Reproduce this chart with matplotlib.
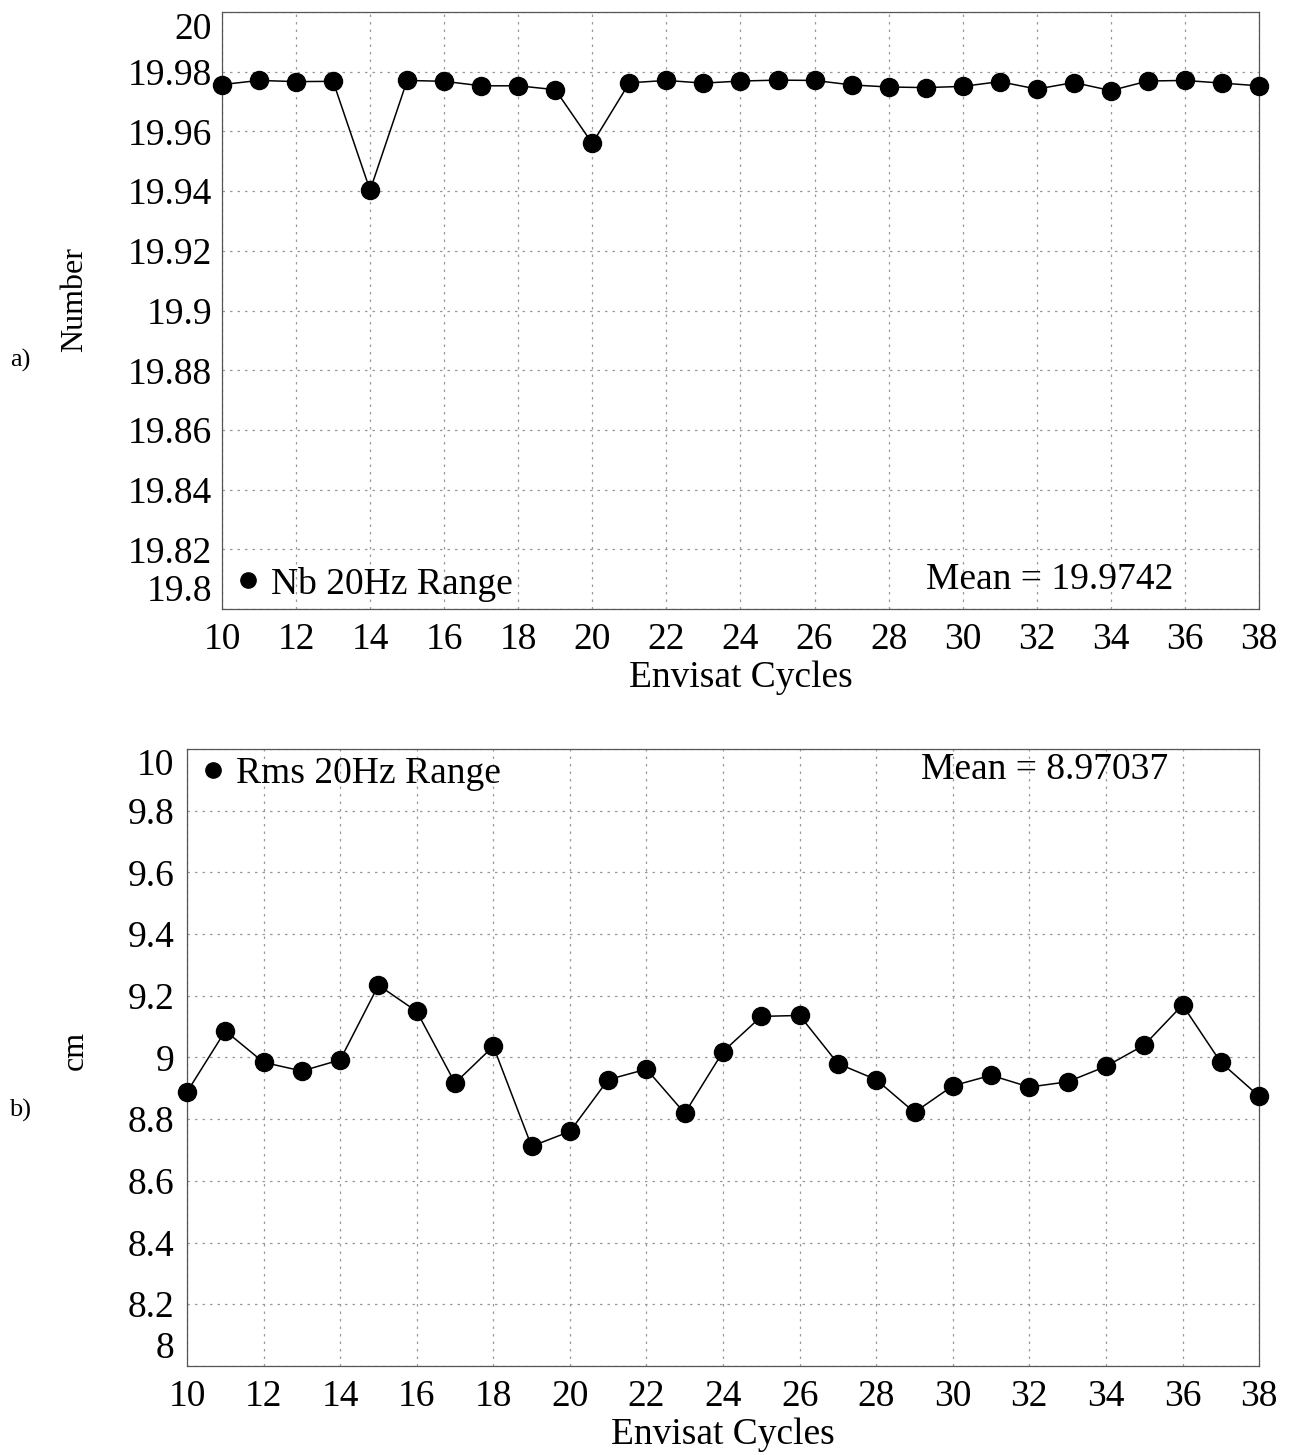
import matplotlib
matplotlib.use("Agg")
import matplotlib.pyplot as plt
from matplotlib.lines import Line2D

# Envisat cycles on the x axis
cycles = [10, 11, 12, 13, 14, 15, 16, 17, 18, 19, 20, 21, 22, 23, 24,
          25, 26, 27, 28, 29, 30, 31, 32, 33, 34, 35, 36, 37, 38]

# a) number of 20Hz range measurements
nb_20hz = [19.9757, 19.9771, 19.9767, 19.9768, 19.9403, 19.9771, 19.9768,
           19.9753, 19.9753, 19.9740, 19.9560, 19.9763, 19.9771, 19.9762,
           19.9769, 19.9772, 19.9771, 19.9756, 19.9749, 19.9747, 19.9751,
           19.9767, 19.9742, 19.9764, 19.9737, 19.9769, 19.9771, 19.9762,
           19.9753]
nb_mean = "19.9742"

# b) rms of 20Hz range (cm)
rms_20hz = [8.888, 9.086, 8.984, 8.956, 8.992, 9.234, 9.149, 8.917, 9.036,
            8.712, 8.760, 8.928, 8.962, 8.819, 9.019, 9.133, 9.136, 8.980,
            8.928, 8.822, 8.908, 8.942, 8.904, 8.921, 8.971, 9.040, 9.170,
            8.984, 8.874]
rms_mean = "8.97037"

xticks = list(range(10, 39, 2))
nb_yticks = [19.8, 19.82, 19.84, 19.86, 19.88, 19.9, 19.92, 19.94, 19.96, 19.98, 20]
nb_ylabels = ["19.8", "19.82", "19.84", "19.86", "19.88", "19.9", "19.92",
              "19.94", "19.96", "19.98", "20"]
rms_yticks = [8, 8.2, 8.4, 8.6, 8.8, 9, 9.2, 9.4, 9.6, 9.8, 10]
rms_ylabels = ["8", "8.2", "8.4", "8.6", "8.8", "9", "9.2", "9.4", "9.6", "9.8", "10"]

plt.rcParams['font.family'] = ['Liberation Serif', 'DejaVu Serif']
FS = 27


def style_panel(ax, series, yticks, ylabels, ypad, series_label, mean_text, legend_loc, mean_xy):
    ax.plot(cycles, series, color='black', lw=1.1, marker='o', ms=13,
            markerfacecolor='black', markeredgecolor='black', zorder=3, clip_on=False)
    ax.set_xlim(10, 38)
    ax.set_ylim(yticks[0], yticks[-1])
    ax.set_xticks(xticks)
    ax.set_xticklabels([str(t) for t in xticks])
    ax.set_yticks(yticks)
    ax.set_yticklabels(ylabels)
    ax.tick_params(axis='both', length=0, labelsize=FS)
    ax.tick_params(axis='x', pad=10)
    ax.tick_params(axis='y', pad=ypad)
    labels = ax.get_yticklabels()
    labels[0].set_va('bottom')
    labels[-1].set_va('top')
    ax.grid(True, color='#999999', ls=(0, (2, 4)), lw=0.9)
    for sp in ax.spines.values():
        sp.set_color('#555555')
        sp.set_linewidth(0.9)
    ax.set_xlabel('Envisat Cycles', fontsize=FS, labelpad=2)
    handle = Line2D([], [], marker='o', ls='none', color='black', ms=11)
    ax.legend([handle], [series_label], loc=legend_loc, frameon=False,
              fontsize=FS, handletextpad=0.1, borderaxespad=0.0,
              borderpad=0.2, handlelength=1.0)
    ax.text(mean_xy[0], mean_xy[1], mean_text, transform=ax.transAxes,
            fontsize=FS, ha='center', va='center')


fig = plt.figure(figsize=(12.89, 14.55), dpi=100)

ax1 = fig.add_axes([0.1722, 0.5814, 0.8045, 0.4103])
style_panel(ax1, nb_20hz, nb_yticks, nb_ylabels, 7, 'Nb 20Hz Range',
            'Mean = ' + nb_mean, 'lower left', (0.798, 0.049))

ax2 = fig.add_axes([0.1451, 0.0612, 0.8317, 0.4241])
style_panel(ax2, rms_20hz, rms_yticks, rms_ylabels, 9, 'Rms 20Hz Range',
            'Mean = ' + rms_mean, 'upper left', (0.80, 0.966))

# y labels and panel tags
fig.text(75 / 1289, 1 - 300 / 1455, 'Number', rotation=90, fontsize=23,
         ha='center', va='center')
fig.text(75 / 1289, 1 - 1050 / 1455, 'cm', rotation=90, fontsize=23,
         ha='center', va='center')
fig.text(20 / 1289, 1 - 360 / 1455, 'a)', fontsize=19, ha='center', va='center')
fig.text(20 / 1289, 1 - 1110 / 1455, 'b)', fontsize=19, ha='center', va='center')

fig.savefig('out.png', dpi=100)
